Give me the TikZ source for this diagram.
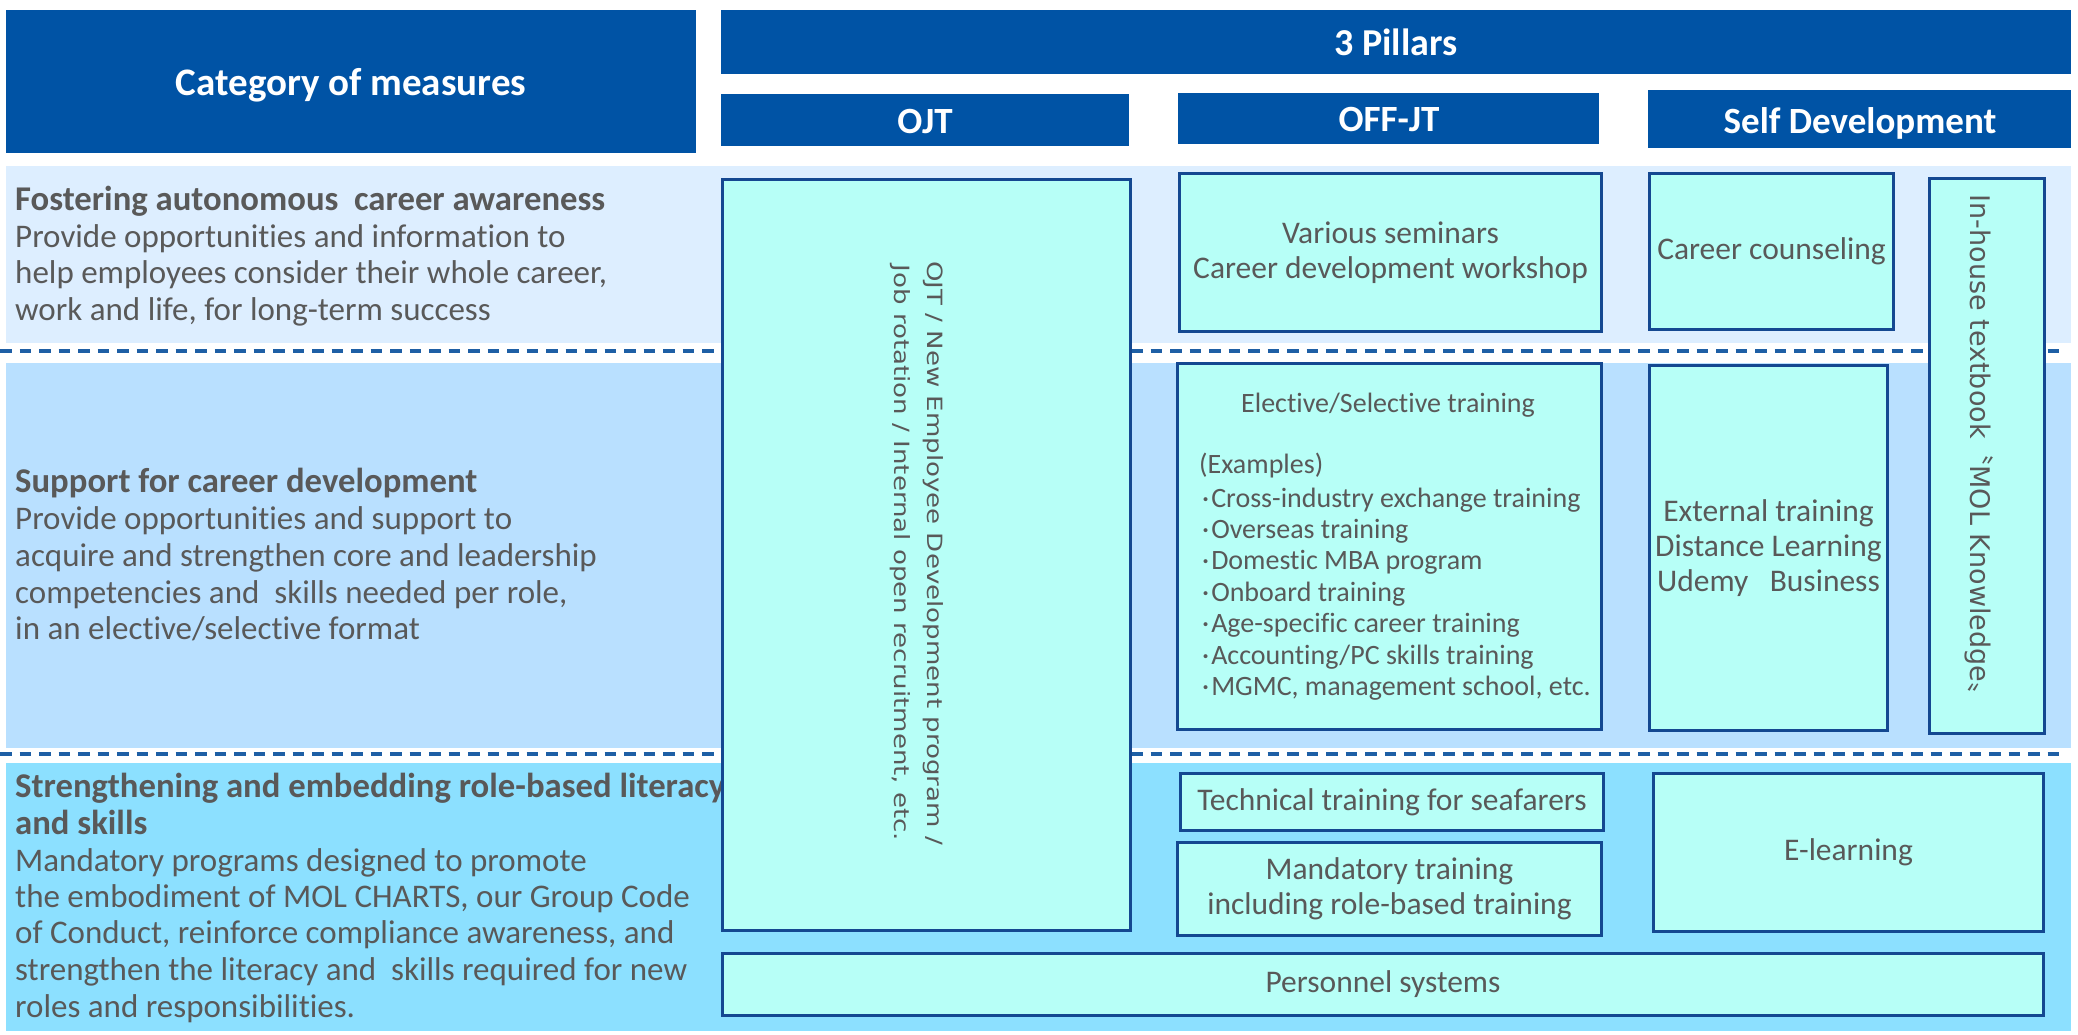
\documentclass[tikz,border=0pt]{standalone}
\usepackage{fontspec}
\usepackage{graphicx}
\setmainfont{Carlito}[Ligatures={NoCommon,NoContextual,NoRare},Contextuals=NoAlternate]
\newfontfamily\vfont{DejaVu Sans}
\newfontfamily\cjk{Noto Sans CJK JP}
\definecolor{hdrblue}{RGB}{0,83,165}
\definecolor{rowa}{RGB}{221,238,255}
\definecolor{rowb}{RGB}{185,224,255}
\definecolor{rowc}{RGB}{140,224,255}
\definecolor{boxfill}{RGB}{183,255,247}
\definecolor{boxline}{RGB}{20,72,145}
\definecolor{txtgrey}{RGB}{89,89,89}
\definecolor{dashblue}{RGB}{30,95,165}
\begin{document}
\begin{tikzpicture}[x=1pt,y=-1pt,
  hdr/.style={fill=hdrblue, draw=none, anchor=north west, inner sep=0pt},
  bx/.style={fill=boxfill, draw=boxline, line width=3pt, anchor=north west, inner sep=0pt, align=center, text=txtgrey, font=\fontsize{31.5}{35}\selectfont},
  dline/.style={draw=dashblue, line width=4pt, dash pattern=on 11.5pt off 8pt},
  ht/.style={anchor=base, inner sep=0pt, text=white, font=\bfseries\fontsize{37}{40}\selectfont},
  lt/.style={anchor=base west, inner sep=0pt, text=txtgrey, font=\fontsize{33}{36}\selectfont},
  ltb/.style={anchor=base west, inner sep=0pt, text=txtgrey, font=\bfseries\fontsize{34.7}{37}\selectfont},
  et/.style={anchor=base west, inner sep=0pt, text=txtgrey, font=\fontsize{28}{31}\selectfont},
]
\fill[white] (0,0) rectangle (2078,1034);
\useasboundingbox (0,0) rectangle (2078,1034);

% row backgrounds
\fill[rowa] (6,166) rectangle (2071,343);
\fill[rowb] (6,363) rectangle (2071,748);
\fill[rowc] (6,763) rectangle (2071,1031);
\coordinate (d1a) at (0,351);
\coordinate (d1b) at (2065,351);
\coordinate (d2a) at (0,754);
\coordinate (d2b) at (2065,754);
\draw[dline] (d1a) -- (d1b);
\draw[dline] (d2a) -- (d2b);

% headers
\node[hdr, minimum width=690pt, minimum height=143pt] (cat) at (6,10) {};
\node[ht, font=\bfseries\fontsize{39}{42}\selectfont] (catt) at (351,95) {Category of measures};
\node[hdr, minimum width=1350pt, minimum height=64pt] (pil) at (721,10) {};
\node[ht, font=\bfseries\fontsize{38}{42}\selectfont] (pilt) at (1396,55) {3 Pillars};
\node[hdr, minimum width=408pt, minimum height=52pt] (hojt) at (721,94) {};
\node[ht] (hojtt) at (925,133) {OJT};
\node[hdr, minimum width=421pt, minimum height=51pt] (hoff) at (1178,93) {};
\node[ht] (hofft) at (1389,131) {OFF-JT};
\node[hdr, minimum width=423pt, minimum height=58pt] (hself) at (1648,90) {};
\node[ht] (hselft) at (1860,133) {Self Development};

% left column texts
\node[ltb] (a1) at (15,210) {Fostering autonomous\ \ career awareness};
\node[lt] (a2) at (15,247) {Provide opportunities and information to};
\node[lt] (a3) at (15,283) {help employees consider their whole career,};
\node[lt] (a4) at (15,320) {work and life, for long-term success};

\node[ltb] (b1) at (15,492) {Support for career development};
\node[lt] (b2) at (15,529) {Provide opportunities and support to};
\node[lt] (b3) at (15,566) {acquire and strengthen core and leadership};
\node[lt] (b4) at (15,603) {competencies and\ \ skills needed per role,};
\node[lt] (b5) at (15,639) {in an elective/selective format};

\node[ltb] (c1) at (15,797) {Strengthening and embedding role-based literacy};
\node[ltb] (c2) at (15,834) {and skills};
\node[lt] (c3) at (15,871) {Mandatory programs designed to promote};
\node[lt] (c4) at (15,907) {the embodiment of MOL CHARTS, our Group Code};
\node[lt] (c5) at (15,943) {of Conduct, reinforce compliance awareness, and};
\node[lt] (c6) at (15,980) {strengthen the literacy and\ \ skills required for new};
\node[lt] (c7) at (15,1017) {roles and responsibilities.};

% boxes
\node[bx, minimum width=408pt, minimum height=751pt] (ojt) at (721,178) {};
\node[rotate=-90, align=center, inner sep=0pt, text=txtgrey, font=\vfont\fontsize{21}{33}\selectfont] (ojtt) at (917,553)
  {\scalebox{1.24}[1]{OJT / New Employee Development program /}\\\scalebox{1.24}[1]{Job rotation / Internal open recruitment, etc.}};

\node[bx, minimum width=422pt, minimum height=158pt] (sem) at (1178,172) {Various seminars\\Career development workshop};
\node[bx, minimum width=244pt, minimum height=156pt] (cc) at (1648,172) {Career counseling};
\node[bx, minimum width=115pt, minimum height=555pt] (inh) at (1928,177) {};
\node[rotate=-90, inner sep=0pt, text=txtgrey, font=\vfont\fontsize{27}{30}\selectfont] (inht) at (1979,452)
  {In-house textbook{\cjk 〝}MOL Knowledge{\cjk 〟}};

\node[bx, minimum width=424pt, minimum height=366pt] (ele) at (1176,362) {};
\node[anchor=base, inner sep=0pt, text=txtgrey, font=\fontsize{28}{31}\selectfont] (elet) at (1388,412) {Elective/Selective training};
\node[et] (ex0) at (1199,473) {(Examples)};
\node[et] (ex1) at (1202,507) {·\hspace{2pt}Cross-industry exchange training};
\node[et] (ex2) at (1202,538) {·\hspace{2pt}Overseas training};
\node[et] (ex3) at (1202,569.5) {·\hspace{2pt}Domestic MBA program};
\node[et] (ex4) at (1202,601) {·\hspace{2pt}Onboard training};
\node[et] (ex5) at (1202,632.5) {·\hspace{2pt}Age-specific career training};
\node[et] (ex6) at (1202,664) {·\hspace{2pt}Accounting/PC skills training};
\node[et] (ex7) at (1202,695.5) {·\hspace{2pt}MGMC, management school, etc.};

\node[bx, minimum width=238pt, minimum height=365pt] (ext) at (1648,364) {External training\\Distance Learning\\Udemy\ \ \ Business};

\node[bx, minimum width=423pt, minimum height=57pt] (tech) at (1179,772) {Technical training for seafarers};
\node[bx, minimum width=424pt, minimum height=93pt] (mand) at (1176,841) {Mandatory training\\including role-based training};
\node[bx, minimum width=390pt, minimum height=158pt] (el) at (1652,772) {E-learning};
\node[bx, minimum width=1321pt, minimum height=62pt] (pers) at (721,952) {Personnel systems};
\end{tikzpicture}
\end{document}
